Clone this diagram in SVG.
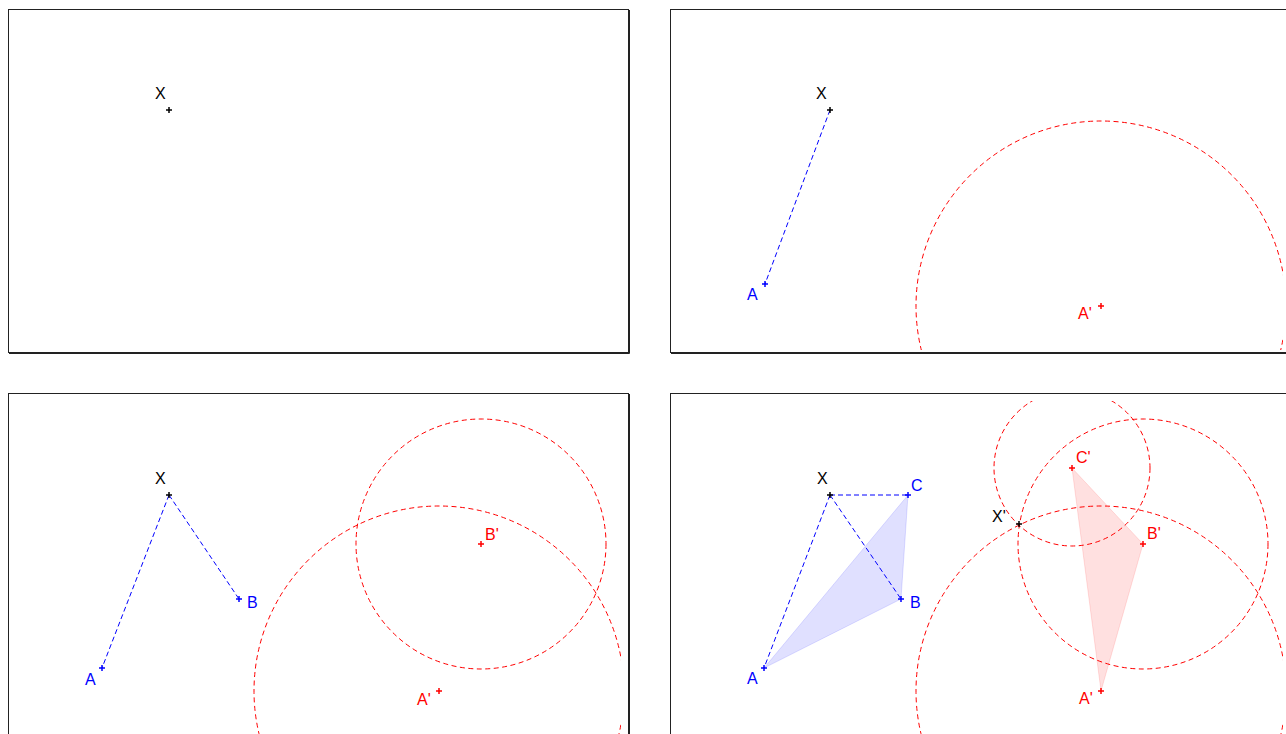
<svg xmlns="http://www.w3.org/2000/svg" width="1286" height="734" viewBox="0 0 1286 734">
<style>
.frame{fill:none;stroke:#222;stroke-width:1}
.frame2{fill:none;stroke:#222;stroke-width:1}
.seg{fill:none;stroke:#0000ff;stroke-width:1;stroke-dasharray:5,3}
.circ{fill:none;stroke:#ff0000;stroke-width:1;stroke-dasharray:5,3.5}
.pt{stroke-width:1.5;fill:none}
.k{stroke:#000}.b{stroke:#0000ff}.r{stroke:#ff0000}
text{font-family:"Liberation Sans",Arial,sans-serif;font-size:16px}
.tk{fill:#000}.tb{fill:#0000ff}.tr{fill:#ff0000}
.triB{fill:#0000ff;fill-opacity:0.12;stroke:#0000ff;stroke-opacity:0.12;stroke-width:1}
.triR{fill:#ff0000;fill-opacity:0.12;stroke:#ff0000;stroke-opacity:0.12;stroke-width:1}
</style>
<defs>
<path id="plus" d="M-3,0H3M0,-3V3"/>
<clipPath id="c1"><rect x="16" y="17" width="605" height="333"/></clipPath>
<clipPath id="c2"><rect x="678" y="17" width="605" height="333"/></clipPath>
<clipPath id="c3"><rect x="16" y="401" width="605" height="333"/></clipPath>
<clipPath id="c4"><rect x="678" y="401" width="605" height="333"/></clipPath>
</defs>
<rect width="1286" height="734" fill="#fff"/>
<g id="frames">
<rect class="frame" x="8.5" y="9.5" width="620" height="343"/>
<path class="frame2" d="M629.5,10V353.5H9"/>
<rect class="frame" x="670.5" y="9.5" width="620" height="343"/>
<path class="frame2" d="M1291.5,10V353.5H671"/>
<rect class="frame" x="8.5" y="393.5" width="620" height="343"/>
<path class="frame2" d="M629.5,394V737.5H9"/>
<rect class="frame" x="670.5" y="393.5" width="620" height="343"/>
</g>
<g id="fills">
<polygon class="triB" points="764,668 901,599 908,495"/>
<polygon class="triR" points="1101,691 1143,544 1072,468"/>
</g>
<g id="connectors">
<g clip-path="url(#c2)">
<line class="seg" x1="830" y1="110" x2="765" y2="284"/>
<circle class="circ" cx="1101" cy="306" r="185"/>
</g>
<g clip-path="url(#c3)">
<line class="seg" x1="169" y1="495" x2="102" y2="668"/>
<line class="seg" x1="169" y1="495" x2="239" y2="599"/>
<circle class="circ" cx="439" cy="691" r="185"/>
<circle class="circ" cx="481" cy="544" r="125"/>
</g>
<g clip-path="url(#c4)">
<line class="seg" x1="830" y1="495" x2="764" y2="668"/>
<line class="seg" x1="830" y1="495" x2="901" y2="599"/>
<line class="seg" x1="830" y1="495" x2="908" y2="495"/>
<circle class="circ" cx="1101" cy="691" r="185"/>
<circle class="circ" cx="1143" cy="544" r="125"/>
<circle class="circ" cx="1072" cy="468" r="78"/>
</g>
</g>
<g id="panel1">
<g id="p1-X"><use href="#plus" class="pt k" x="169" y="110"/><text class="tk" x="155" y="99">X</text></g>
</g>
<g id="panel2">
<g id="p2-X"><use href="#plus" class="pt k" x="830" y="110"/><text class="tk" x="816" y="99">X</text></g>
<g id="p2-A"><use href="#plus" class="pt b" x="765" y="284"/><text class="tb" x="747" y="300">A</text></g>
<g id="p2-A2"><use href="#plus" class="pt r" x="1101" y="306"/><text class="tr" x="1078" y="319">A'</text></g>
</g>
<g id="panel3">
<g id="p3-X"><use href="#plus" class="pt k" x="169" y="495"/><text class="tk" x="155" y="484">X</text></g>
<g id="p3-A"><use href="#plus" class="pt b" x="102" y="668"/><text class="tb" x="85" y="685">A</text></g>
<g id="p3-B"><use href="#plus" class="pt b" x="239" y="599"/><text class="tb" x="247" y="608">B</text></g>
<g id="p3-A2"><use href="#plus" class="pt r" x="439" y="691"/><text class="tr" x="417" y="705">A'</text></g>
<g id="p3-B2"><use href="#plus" class="pt r" x="481" y="544"/><text class="tr" x="485" y="540">B'</text></g>
</g>
<g id="panel4">
<g id="p4-X"><use href="#plus" class="pt k" x="830" y="495"/><text class="tk" x="817" y="484">X</text></g>
<g id="p4-A"><use href="#plus" class="pt b" x="764" y="668"/><text class="tb" x="747" y="684">A</text></g>
<g id="p4-B"><use href="#plus" class="pt b" x="901" y="599"/><text class="tb" x="910" y="608">B</text></g>
<g id="p4-C"><use href="#plus" class="pt b" x="908" y="495"/><text class="tb" x="911" y="491">C</text></g>
<g id="p4-X2"><use href="#plus" class="pt k" x="1019" y="524"/><text class="tk" x="992" y="522">X'</text></g>
<g id="p4-A2"><use href="#plus" class="pt r" x="1101" y="691"/><text class="tr" x="1079" y="704">A'</text></g>
<g id="p4-B2"><use href="#plus" class="pt r" x="1143" y="544"/><text class="tr" x="1147" y="539">B'</text></g>
<g id="p4-C2"><use href="#plus" class="pt r" x="1072" y="468"/><text class="tr" x="1076" y="463">C'</text></g>
</g>
</svg>
